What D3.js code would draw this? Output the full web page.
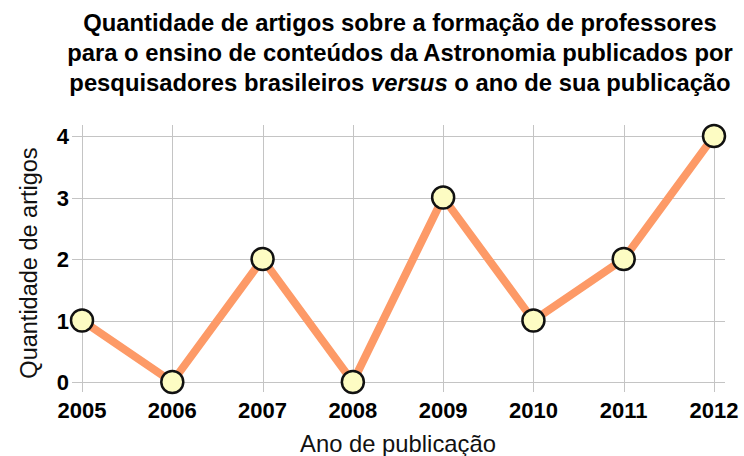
<!DOCTYPE html>
<html>
<head>
<meta charset="utf-8">
<script src="https://d3js.org/d3.v7.min.js"></script>
<style>
  body { margin: 0; background: #fff; }
  svg { display: block; font-family: "Liberation Sans", Arial, sans-serif; }
</style>
</head>
<body>
<div id="chart"></div>
<script>
// data
var years = [2005, 2006, 2007, 2008, 2009, 2010, 2011, 2012];
var counts = [1, 0, 2, 0, 3, 1, 2, 4];
var yTicks = [0, 1, 2, 3, 4];
var titleLines = [
	"Quantidade de artigos sobre a formação de professores",
	"para o ensino de conteúdos da Astronomia publicados por",
	["pesquisadores brasileiros ", "versus", " o ano de sua publicação"]
];

var width = 744, height = 456;
var svg = d3.select("#chart").append("svg").attr("width", width).attr("height", height);

var x = d3.scalePoint().domain(years).range([82, 714]);
var y = d3.scaleLinear().domain([0, 4]).range([382, 136]);

// title
var title = svg.append("g").attr("font-weight", "bold").attr("font-size", 23.8).attr("text-anchor", "middle");
titleLines.forEach(function(line, i) {
	var t = title.append("text").attr("x", 400).attr("y", 31 + i * 30);
	if (typeof line === "string") {
		t.text(line);
	} else {
		line.forEach(function(part, j) {
			t.append("tspan").attr("font-style", j == 1 ? "italic" : "normal").text(part);
		});
	}
});

// grid
var grid = svg.append("g").attr("stroke", "#c4c4c4").attr("stroke-width", 1);
grid.selectAll(".hg").data(yTicks).enter().append("line")
	.attr("x1", 72).attr("x2", 725)
	.attr("y1", function(d) { return Math.round(y(d)) + 0.5; })
	.attr("y2", function(d) { return Math.round(y(d)) + 0.5; });
grid.selectAll(".vg").data(years).enter().append("line")
	.attr("y1", 125).attr("y2", 392)
	.attr("x1", function(d) { return Math.round(x(d)) + 0.5; })
	.attr("x2", function(d) { return Math.round(x(d)) + 0.5; });

// tick labels
svg.append("g").selectAll("text").data(yTicks).enter().append("text")
	.attr("x", 69).attr("y", function(d) { return y(d) + 8; })
	.attr("text-anchor", "end").attr("font-weight", "bold").attr("font-size", 22)
	.text(function(d) { return d; });
svg.append("g").selectAll("text").data(years).enter().append("text")
	.attr("x", function(d) { return x(d); }).attr("y", 418)
	.attr("text-anchor", "middle").attr("font-weight", "bold").attr("font-size", 22)
	.text(function(d) { return d; });

// axis titles
svg.append("text").attr("x", 398).attr("y", 452).attr("text-anchor", "middle")
	.attr("font-size", 23.8).attr("fill", "#111").text("Ano de publicação");
svg.append("text").attr("transform", "translate(37,263) rotate(-90)").attr("text-anchor", "middle")
	.attr("font-size", 23.5).attr("fill", "#111").text("Quantidade de artigos");

// line + points
var pts = years.map(function(yr, i) { return [x(yr), y(counts[i])]; });
svg.append("path").attr("d", d3.line()(pts))
	.attr("fill", "none").attr("stroke", "#fd9a67").attr("stroke-width", 8)
	.attr("stroke-linejoin", "round");
svg.selectAll(".dot").data(pts).enter().append("circle")
	.attr("cx", function(d) { return d[0]; }).attr("cy", function(d) { return d[1]; })
	.attr("r", 11).attr("fill", "#fdfcc3").attr("stroke", "#111").attr("stroke-width", 2.5);
</script>
</body>
</html>
